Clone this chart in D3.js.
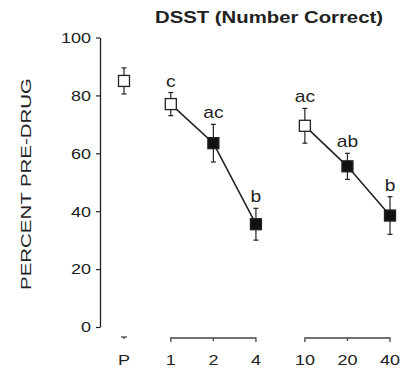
<!DOCTYPE html>
<html>
<head>
<meta charset="utf-8">
<script src="https://cdn.jsdelivr.net/npm/d3@7/dist/d3.min.js"></script>
<style>
  html, body { margin: 0; padding: 0; background: #fff; }
  text { font-family: "Liberation Sans", Arial, sans-serif; fill: #222; }
</style>
</head>
<body>
<div id="canvas"></div>
<script>
"use strict";

/* chart size */
let svgWidth = 406;
let svgHeight = 371;

/* data */
let doseLabels = ["P", "1", "2", "4", "10", "20", "40"];
let doseSlot   = [0, 1.1, 2.1, 3.1, 4.25, 5.25, 6.25]; // spacing of the categories on the x axis
let meanPct    = [85, 77, 63.5, 35.5, 69.5, 55.5, 38.5];
let errPct     = [4.5, 4, 6.5, 5.5, 6, 4.5, 6.5];
let isFilled   = [false, false, true, true, false, true, true];
let sigLetters = ["", "c", "ac", "b", "ac", "ab", "b"];
let lineGroups = [["1", "2", "4"], ["10", "20", "40"]];
let yTicks     = [0, 20, 40, 60, 80, 100];

const points = doseLabels.map((d, i) => ({
  dose: d, slot: doseSlot[i], mean: meanPct[i], err: errPct[i],
  filled: isFilled[i], letter: sigLetters[i]
}));
const byDose = {};
points.forEach(p => { byDose[p.dose] = p; });

const svg = d3.select("#canvas")
  .append("svg")
  .attr("width", svgWidth)
  .attr("height", svgHeight);

svg.append("rect").attr("width", svgWidth).attr("height", svgHeight).attr("fill", "#fff");

// scales
const xScale = d3.scaleLinear().domain([0, 6.25]).range([124, 390]);
const yScale = d3.scaleLinear().domain([0, 100]).range([327, 37.5]);
const sx = 1.2; // the type in the figure is a little wider than the installed fonts

// y axis
const yAxis = svg.append("g")
  .attr("transform", "translate(100,0)")
  .call(d3.axisLeft(yScale).tickValues(yTicks).tickSize(4).tickSizeOuter(0).tickPadding(3));
yAxis.select(".domain").attr("stroke", "#222").attr("stroke-width", 1.3);
yAxis.selectAll(".tick line").attr("stroke", "#222").attr("stroke-width", 1.2);
yAxis.selectAll(".tick text")
  .attr("font-size", "15px")
  .attr("font-family", "Liberation Sans, Arial, sans-serif")
  .attr("fill", "#222")
  .attr("x", -7.5)
  .attr("transform", `scale(${sx},1)`);

// y label
svg.append("text")
  .attr("transform", "translate(31,184) rotate(-90)")
  .attr("text-anchor", "middle")
  .attr("font-size", "15px")
  .attr("textLength", 212)
  .attr("lengthAdjust", "spacingAndGlyphs")
  .text("PERCENT PRE-DRUG");

// title
svg.append("text")
  .attr("x", 269)
  .attr("y", 23)
  .attr("text-anchor", "middle")
  .attr("font-size", "17px")
  .attr("font-weight", "bold")
  .attr("textLength", 228)
  .attr("lengthAdjust", "spacingAndGlyphs")
  .text("DSST (Number Correct)");

// x axis: short tick under P, brackets under each dose group
const axisY = 338;
const xAxisG = svg.append("g").attr("stroke", "#444").attr("stroke-width", 1.3).attr("fill", "none");
const px = xScale(byDose["P"].slot);
xAxisG.append("line").attr("x1", px - 3).attr("x2", px + 3).attr("y1", axisY - 1).attr("y2", axisY - 1);
xAxisG.append("line").attr("x1", px).attr("x2", px).attr("y1", axisY - 1).attr("y2", axisY + 1);

lineGroups.forEach(grp => {
  const xs = grp.map(d => xScale(byDose[d].slot));
  xAxisG.append("path")
    .attr("d", `M${xs[0]},${axisY + 4}V${axisY}H${xs[2]}V${axisY + 4}`);
  xAxisG.append("line")
    .attr("x1", xs[1]).attr("x2", xs[1])
    .attr("y1", axisY).attr("y2", axisY + 3);
});

svg.selectAll("text.xlab")
  .data(points)
  .enter()
  .append("text")
  .classed("xlab", true)
  .attr("transform", d => `translate(${xScale(d.slot)},365) scale(${sx},1)`)
  .attr("text-anchor", "middle")
  .attr("font-size", "15px")
  .text(d => d.dose);

// connecting lines
const line = d3.line().x(d => xScale(d.slot)).y(d => yScale(d.mean));
lineGroups.forEach(grp => {
  svg.append("path")
    .datum(grp.map(d => byDose[d]))
    .attr("d", line)
    .attr("fill", "none")
    .attr("stroke", "#222")
    .attr("stroke-width", 1.6);
});

// error bars
const eb = svg.selectAll("g.err")
  .data(points)
  .enter()
  .append("g")
  .classed("err", true)
  .attr("stroke", "#222")
  .attr("stroke-width", 1.2);
eb.append("line")
  .attr("x1", d => xScale(d.slot)).attr("x2", d => xScale(d.slot))
  .attr("y1", d => yScale(d.mean + d.err)).attr("y2", d => yScale(d.mean - d.err));
eb.append("line")
  .attr("x1", d => xScale(d.slot) - 2.5).attr("x2", d => xScale(d.slot) + 2.5)
  .attr("y1", d => yScale(d.mean + d.err)).attr("y2", d => yScale(d.mean + d.err));
eb.append("line")
  .attr("x1", d => xScale(d.slot) - 2.5).attr("x2", d => xScale(d.slot) + 2.5)
  .attr("y1", d => yScale(d.mean - d.err)).attr("y2", d => yScale(d.mean - d.err));

// squares
const box = 11;
svg.selectAll("rect.pt")
  .data(points)
  .enter()
  .append("rect")
  .classed("pt", true)
  .attr("x", d => xScale(d.slot) - box / 2)
  .attr("y", d => yScale(d.mean) - box / 2)
  .attr("width", box)
  .attr("height", box)
  .attr("fill", d => d.filled ? "#111" : "#fff")
  .attr("stroke", "#222")
  .attr("stroke-width", 1.3);

// significance letters
svg.selectAll("text.sig")
  .data(points.filter(d => d.letter))
  .enter()
  .append("text")
  .classed("sig", true)
  .attr("transform", d => `translate(${xScale(d.slot)},${yScale(d.mean + d.err) - 6}) scale(${sx},1)`)
  .attr("text-anchor", "middle")
  .attr("font-size", "16px")
  .text(d => d.letter);
</script>
</body>
</html>
